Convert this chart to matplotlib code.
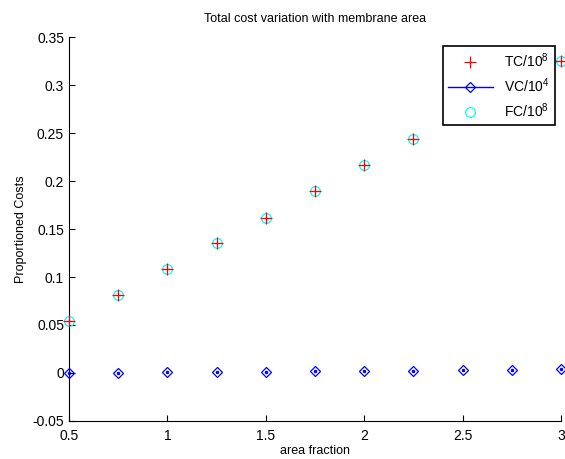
import matplotlib
matplotlib.use("Agg")
import matplotlib.pyplot as plt

plt.rcParams['font.family'] = ['Liberation Sans', 'DejaVu Sans']
plt.rcParams['mathtext.fontset'] = 'custom'
plt.rcParams['mathtext.rm'] = 'Liberation Sans'

# data
area = [0.5, 0.75, 1.0, 1.25, 1.5, 1.75, 2.0, 2.25, 2.5, 2.75, 3.0]
tc = [0.054, 0.081, 0.108, 0.135, 0.162, 0.190, 0.217, 0.244, 0.271, 0.298, 0.325]
vc = [0.0, 0.0, 0.0005, 0.0007, 0.0014, 0.0016, 0.0018, 0.0024, 0.0027, 0.0030, 0.0037]
fc = [0.054, 0.081, 0.108, 0.135, 0.162, 0.190, 0.217, 0.244, 0.271, 0.298, 0.325]

fig = plt.figure(figsize=(5.65, 4.59), dpi=100)
ax = fig.add_axes([0.122, 0.083, 0.871, 0.836])

ax.plot(area, tc, '+', color='red', ms=8, mew=0.9, label=r'TC/10$^8$', zorder=4)
ax.plot(area, vc, 'D', color='blue', mfc='none', ms=5.5, mew=0.9, ls='-', lw=0,
        label=r'VC/10$^4$', zorder=3)
ax.plot(area, vc, '.', color='blue', ms=3, zorder=3)
ax.plot(area, fc, 'o', color='cyan', mfc='none', ms=7, mew=0.9, label=r'FC/10$^8$', zorder=3)

ax.set_xlim(0.5, 3)
ax.set_ylim(-0.05, 0.35)
ax.set_xticks([0.5, 1, 1.5, 2, 2.5, 3])
ax.set_xticklabels(['0.5', '1', '1.5', '2', '2.5', '3'])
ax.set_yticks([-0.05, 0, 0.05, 0.1, 0.15, 0.2, 0.25, 0.3, 0.35])
ax.set_yticklabels(['-0.05', '0', '0.05', '0.1', '0.15', '0.2', '0.25', '0.3', '0.35'])
ax.spines['top'].set_visible(False)
ax.spines['right'].set_visible(False)
ax.tick_params(direction='in', length=4, labelsize=10)
ax.tick_params(axis='x', pad=6)
for line in ax.lines:
    line.set_clip_on(False)

ax.set_title('Total cost variation with membrane area', fontsize=9, pad=11)
ax.set_xlabel('area fraction', fontsize=9, labelpad=1)
ax.set_ylabel('Proportioned Costs', fontsize=9)

leg = ax.legend(loc='upper right', bbox_to_anchor=(0.988, 0.977), borderaxespad=0,
                fontsize=10, fancybox=False, framealpha=1, edgecolor='black',
                handlelength=3.2, handletextpad=0.8, labelspacing=0.45)
leg.get_frame().set_linewidth(1.2)
leg.legend_handles[1].set_linewidth(1)

fig.savefig('out.png', dpi=100)
